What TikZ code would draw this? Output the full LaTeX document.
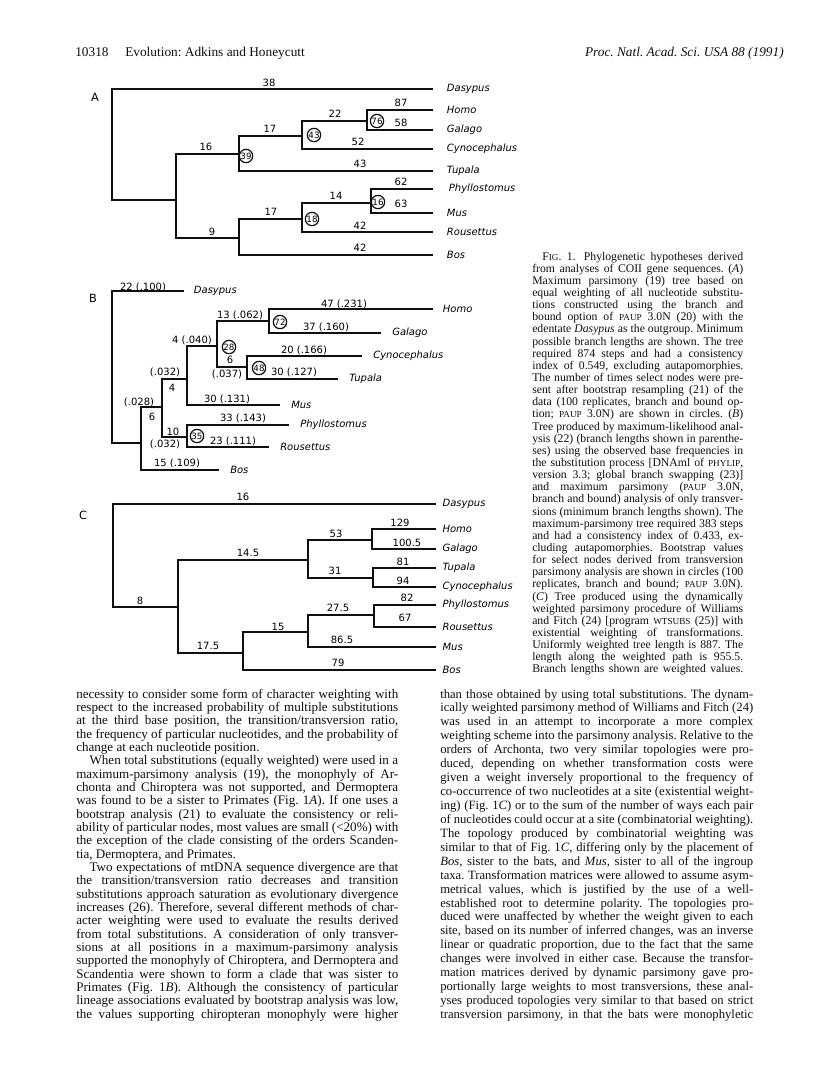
\documentclass[tikz,border=0pt]{standalone}
\usepackage{fontspec}
\setmainfont{Liberation Serif}
\newfontfamily\genevafont{DejaVu Sans}
\usepackage{tikz}
\usetikzlibrary{positioning}
\definecolor{ink}{RGB}{15,15,15}

\hbadness=10000
\hfuzz=2pt
\frenchspacing
\newcommand\jline[1]{\hbox to\hsize{#1}}
\newcommand\lline[1]{\hbox{#1}}
\newcommand\smcap[1]{{\fontsize{6.9}{7}\selectfont #1}}

\begin{document}
\begin{tikzpicture}[x=0.75pt,y=-0.75pt,
    branch/.style={ink,line width=1.9pt,line cap=rect},
    taxon/.style={font=\genevafont\itshape\fontsize{7.5}{9}\selectfont,inner sep=0pt,anchor=west},
    blen/.style={font=\genevafont\fontsize{7.5}{9}\selectfont,inner sep=0pt},
    boot/.style={circle,draw=ink,line width=0.9pt,fill=white,minimum size=10pt,inner sep=0pt,
      font=\genevafont\fontsize{6.5}{7}\selectfont},
    panel/.style={font=\genevafont\fontsize{8.5}{10}\selectfont,inner sep=0pt},
    textcol/.style={anchor=base west,inner sep=0pt,text=ink}]

    \fill[white] (0,0) rectangle (816,1079);
    \useasboundingbox (0,0) rectangle (816,1079);

    % Running head
    \node[textcol,font=\fontsize{10}{12}\selectfont] (pageno) at (75,56) {10318};
    \node[textcol,font=\fontsize{10}{12}\selectfont] (runhead) at (125,56) {Evolution: Adkins and Honeycutt};
    \node[textcol,anchor=base east,font=\fontsize{10}{12}\selectfont\itshape] (journal) at (784,56)
        {Proc. Natl. Acad. Sci. USA 88 (1991)};

    % ---------------- Tree A ----------------
    \node[panel] (panA) at (95,97) {A};
    \coordinate (rA) at (112,200);
    \coordinate (a1) at (176,200);
    \coordinate (a2) at (239,154);
    \coordinate (a3) at (302,136);
    \coordinate (a4) at (367,121);
    \coordinate (a5) at (239,238);
    \coordinate (a6) at (302,219);
    \coordinate (a7) at (371,203);
    \coordinate (dasA) at (432,89);
    \coordinate (homA) at (432,110);
    \coordinate (galA) at (432,130);
    \coordinate (cynA) at (432,149);
    \coordinate (tupA) at (432,171);
    \coordinate (phyA) at (432,189);
    \coordinate (musA) at (432,213);
    \coordinate (rouA) at (432,232);
    \coordinate (bosA) at (432,255);

    \foreach \p/\c in {rA/dasA,rA/a1,a1/a2,a1/a5,a2/a3,a2/tupA,a3/a4,a3/cynA,a4/homA,a4/galA,
                       a5/a6,a5/bosA,a6/a7,a6/rouA,a7/phyA,a7/musA}
        \draw[branch] (\p) |- (\c);

    \node[taxon,right=11pt of dasA] (tDasA) {Dasypus};
    \node[taxon,right=11pt of homA] (tHomA) {Homo};
    \node[taxon,right=11pt of galA] (tGalA) {Galago};
    \node[taxon,right=11pt of cynA] (tCynA) {Cynocephalus};
    \node[taxon,right=11pt of tupA] (tTupA) {Tupala};
    \node[taxon,right=12.5pt of phyA] (tPhyA) {Phyllostomus};
    \node[taxon,right=11pt of musA] (tMusA) {Mus};
    \node[taxon,right=11pt of rouA] (tRouA) {Rousettus};
    \node[taxon,right=11pt of bosA] (tBosA) {Bos};

    % branch lengths
    \node[blen] (lA1) at (269,83) {38};
    \node[blen] (lA2) at (206,147) {16};
    \node[blen] (lA3) at (212,232) {9};
    \node[blen] (lA4) at (270,129) {17};
    \node[blen] (lA5) at (360,164) {43};
    \node[blen] (lA6) at (335,114) {22};
    \node[blen] (lA7) at (358,142) {52};
    \node[blen] (lA8) at (401,103) {87};
    \node[blen] (lA9) at (401,123) {58};
    \node[blen] (lA10) at (271,212) {17};
    \node[blen] (lA11) at (360,248) {42};
    \node[blen] (lA12) at (336,196) {14};
    \node[blen] (lA13) at (360,226) {42};
    \node[blen] (lA14) at (401,182) {62};
    \node[blen] (lA15) at (401,204) {63};

    % bootstrap values
    \node[boot] (bA1) at (377,121) {76};
    \node[boot] (bA2) at (314,135) {43};
    \node[boot] (bA3) at (246,156) {39};
    \node[boot] (bA4) at (312,219) {18};
    \node[boot] (bA5) at (378,202) {16};

    % ---------------- Tree B ----------------
    \node[panel] (panB) at (93,298) {B};
    \coordinate (rB) at (112,443);
    \coordinate (b1) at (141,443);
    \coordinate (b2) at (162,407);
    \coordinate (b3) at (187,437);
    \coordinate (b4) at (187,379);
    \coordinate (b5) at (217,346);
    \coordinate (b6) at (247,367);
    \coordinate (b7) at (269,321);
    \coordinate (dasB) at (183,291);
    \coordinate (homB) at (432,309);
    \coordinate (galB) at (380,333);
    \coordinate (cynB) at (361,356);
    \coordinate (tupB) at (337,379);
    \coordinate (musB) at (279,405);
    \coordinate (phyB) at (288,425);
    \coordinate (rouB) at (268,447);
    \coordinate (bosB) at (218,470);

    \foreach \p/\c in {rB/dasB,rB/b1,b1/b2,b1/bosB,b2/b3,b2/b4,b3/phyB,b3/rouB,b4/b5,b4/musB,
                       b5/b6,b5/b7,b6/cynB,b6/tupB,b7/homB,b7/galB}
        \draw[branch] (\p) |- (\c);

    \node[taxon,right=8pt of dasB] (tDasB) {Dasypus};
    \node[taxon,right=8pt of homB] (tHomB) {Homo};
    \node[taxon,right=9pt of galB] (tGalB) {Galago};
    \node[taxon,right=9pt of cynB] (tCynB) {Cynocephalus};
    \node[taxon,right=9pt of tupB] (tTupB) {Tupala};
    \node[taxon,right=9pt of musB] (tMusB) {Mus};
    \node[taxon,right=9pt of phyB] (tPhyB) {Phyllostomus};
    \node[taxon,right=9pt of rouB] (tRouB) {Rousettus};
    \node[taxon,right=9pt of bosB] (tBosB) {Bos};

    % branch lengths (likelihood values in parentheses)
    \node[blen] (lB1) at (143,287) {22 (.100)};
    \node[blen] (lB2) at (177,463) {15 (.109)};
    \node[blen] (lB3) at (139,402) {(.028)};
    \node[blen] (lB4) at (152,417) {6};
    \node[blen] (lB5) at (173,432) {10};
    \node[blen] (lB6) at (165,444) {(.032)};
    \node[blen] (lB7) at (243,418) {33 (.143)};
    \node[blen] (lB8) at (233,441) {23 (.111)};
    \node[blen] (lB9) at (165,372) {(.032)};
    \node[blen] (lB10) at (172,388) {4};
    \node[blen] (lB11) at (227,399) {30 (.131)};
    \node[blen] (lB12) at (192,340) {4 (.040)};
    \node[blen] (lB13) at (230,360) {6};
    \node[blen] (lB14) at (227,374) {(.037)};
    \node[blen] (lB15) at (304,350) {20 (.166)};
    \node[blen] (lB16) at (294,372) {30 (.127)};
    \node[blen] (lB17) at (240,315) {13 (.062)};
    \node[blen] (lB18) at (344,304) {47 (.231)};
    \node[blen] (lB19) at (326,327) {37 (.160)};

    \node[boot] (bB1) at (280,322) {72};
    \node[boot] (bB2) at (229,347) {28};
    \node[boot] (bB3) at (259,368) {48};
    \node[boot] (bB4) at (197,436) {35};

    % ---------------- Tree C ----------------
    \node[panel] (panC) at (83,515) {C};
    \coordinate (rC) at (113,607);
    \coordinate (c1) at (178,607);
    \coordinate (c2) at (308,560);
    \coordinate (c3) at (372,540);
    \coordinate (c4) at (373,578);
    \coordinate (c5) at (243,653);
    \coordinate (c6) at (308,632);
    \coordinate (c7) at (374,615);
    \coordinate (dasC) at (435,504);
    \coordinate (homC) at (435,529);
    \coordinate (galC) at (435,549);
    \coordinate (tupC) at (435,568);
    \coordinate (cynC) at (435,587);
    \coordinate (phyC) at (435,605);
    \coordinate (rouC) at (435,627);
    \coordinate (musC) at (435,647);
    \coordinate (bosC) at (435,670);

    \foreach \p/\c in {rC/dasC,rC/c1,c1/c2,c1/c5,c2/c3,c2/c4,c3/homC,c3/galC,c4/tupC,c4/cynC,
                       c5/c6,c5/bosC,c6/c7,c6/musC,c7/phyC,c7/rouC}
        \draw[branch] (\p) |- (\c);

    \node[taxon,right=5.5pt of dasC] (tDasC) {Dasypus};
    \node[taxon,right=5.5pt of homC] (tHomC) {Homo};
    \node[taxon,right=5.5pt of galC] (tGalC) {Galago};
    \node[taxon,right=5.5pt of tupC] (tTupC) {Tupala};
    \node[taxon,right=5.5pt of cynC] (tCynC) {Cynocephalus};
    \node[taxon,right=5.5pt of phyC] (tPhyC) {Phyllostomus};
    \node[taxon,right=5.5pt of rouC] (tRouC) {Rousettus};
    \node[taxon,right=5.5pt of musC] (tMusC) {Mus};
    \node[taxon,right=5.5pt of bosC] (tBosC) {Bos};

    \node[blen] (lC1) at (243,497) {16};
    \node[blen] (lC2) at (140,601) {8};
    \node[blen] (lC3) at (248,553) {14.5};
    \node[blen] (lC4) at (208,646) {17.5};
    \node[blen] (lC5) at (336,534) {53};
    \node[blen] (lC6) at (400,523) {129};
    \node[blen] (lC7) at (407,543) {100.5};
    \node[blen] (lC8) at (335,571) {31};
    \node[blen] (lC9) at (403,562) {81};
    \node[blen] (lC10) at (403,581) {94};
    \node[blen] (lC11) at (338,663) {79};
    \node[blen] (lC12) at (278,627) {15};
    \node[blen] (lC13) at (342,640) {86.5};
    \node[blen] (lC14) at (338,608) {27.5};
    \node[blen] (lC15) at (407,598) {82};
    \node[blen] (lC16) at (405,618) {67};

    % ---------------- Legend ----------------
    \node[textcol,font=\fontsize{8.8}{9.11}\selectfont] (legend) at (532,260) {\vtop{\hsize=158.25pt
    \jline{\hspace*{7.5pt}F\smcap{IG}. 1.\hspace{0.7em}Phylogenetic hypotheses derived}
    \jline{from analyses of COII gene sequences. (\textit{A})}
    \jline{Maximum parsimony (19) tree based on}
    \jline{equal weighting of all nucleotide substitu-}
    \jline{tions constructed using the branch and}
    \jline{bound option of \smcap{PAUP} 3.0N (20) with the}
    \jline{edentate \textit{Dasypus} as the outgroup. Minimum}
    \jline{possible branch lengths are shown. The tree}
    \jline{required 874 steps and had a consistency}
    \jline{index of 0.549, excluding autapomorphies.}
    \jline{The number of times select nodes were pre-}
    \jline{sent after bootstrap resampling (21) of the}
    \jline{data (100 replicates, branch and bound op-}
    \jline{tion; \smcap{PAUP} 3.0N) are shown in circles. (\textit{B})}
    \jline{Tree produced by maximum-likelihood anal-}
    \jline{ysis (22) (branch lengths shown in parenthe-}
    \jline{ses) using the observed base frequencies in}
    \jline{the substitution process [DNAml of \smcap{PHYLIP},}
    \jline{version 3.3; global branch swapping (23)]}
    \jline{and maximum parsimony (\smcap{PAUP} 3.0N,}
    \jline{branch and bound) analysis of only transver-}
    \jline{sions (minimum branch lengths shown). The}
    \jline{maximum-parsimony tree required 383 steps}
    \jline{and had a consistency index of 0.433, ex-}
    \jline{cluding autapomorphies. Bootstrap values}
    \jline{for select nodes derived from transversion}
    \jline{parsimony analysis are shown in circles (100}
    \jline{replicates, branch and bound; \smcap{PAUP} 3.0N).}
    \jline{(\textit{C}) Tree produced using the dynamically}
    \jline{weighted parsimony procedure of Williams}
    \jline{and Fitch (24) [program \smcap{WTSUBS} (25)] with}
    \jline{existential weighting of transformations.}
    \jline{Uniformly weighted tree length is 887. The}
    \jline{length along the weighted path is 955.5.}
    \jline{Branch lengths shown are weighted values.}}};

    % ---------------- Body text ----------------
    \node[textcol,font=\fontsize{9.8}{10}\selectfont] (colL) at (76,698) {\vtop{\hsize=241.5pt
    \jline{necessity to consider some form of character weighting with}
    \jline{respect to the increased probability of multiple substitutions}
    \jline{at the third base position, the transition/transversion ratio,}
    \jline{the frequency of particular nucleotides, and the probability of}
    \lline{change at each nucleotide position.}
    \jline{\hspace*{10pt}When total substitutions (equally weighted) were used in a}
    \jline{maximum-parsimony analysis (19), the monophyly of Ar-}
    \jline{chonta and Chiroptera was not supported, and Dermoptera}
    \jline{was found to be a sister to Primates (Fig. 1\textit{A}). If one uses a}
    \jline{bootstrap analysis (21) to evaluate the consistency or reli-}
    \jline{ability of particular nodes, most values are small (<20\%) with}
    \jline{the exception of the clade consisting of the orders Scanden-}
    \lline{tia, Dermoptera, and Primates.}
    \jline{\hspace*{10pt}Two expectations of mtDNA sequence divergence are that}
    \jline{the transition/transversion ratio decreases and transition}
    \jline{substitutions approach saturation as evolutionary divergence}
    \jline{increases (26). Therefore, several different methods of char-}
    \jline{acter weighting were used to evaluate the results derived}
    \jline{from total substitutions. A consideration of only transver-}
    \jline{sions at all positions in a maximum-parsimony analysis}
    \jline{supported the monophyly of Chiroptera, and Dermoptera and}
    \jline{Scandentia were shown to form a clade that was sister to}
    \jline{Primates (Fig. 1\textit{B}). Although the consistency of particular}
    \jline{lineage associations evaluated by bootstrap analysis was low,}
    \jline{the values supporting chiropteran monophyly were higher}}};

    \node[textcol,font=\fontsize{9.5}{10.45}\selectfont] (colR) at (440,698) {\vtop{\hsize=234.75pt
    \jline{than those obtained by using total substitutions. The dynam-}
    \jline{ically weighted parsimony method of Williams and Fitch (24)}
    \jline{was used in an attempt to incorporate a more complex}
    \jline{weighting scheme into the parsimony analysis. Relative to the}
    \jline{orders of Archonta, two very similar topologies were pro-}
    \jline{duced, depending on whether transformation costs were}
    \jline{given a weight inversely proportional to the frequency of}
    \jline{co-occurrence of two nucleotides at a site (existential weight-}
    \jline{ing) (Fig. 1\textit{C}) or to the sum of the number of ways each pair}
    \jline{of nucleotides could occur at a site (combinatorial weighting).}
    \jline{The topology produced by combinatorial weighting was}
    \jline{similar to that of Fig. 1\textit{C}, differing only by the placement of}
    \jline{\textit{Bos}, sister to the bats, and \textit{Mus}, sister to all of the ingroup}
    \jline{taxa. Transformation matrices were allowed to assume asym-}
    \jline{metrical values, which is justified by the use of a well-}
    \jline{established root to determine polarity. The topologies pro-}
    \jline{duced were unaffected by whether the weight given to each}
    \jline{site, based on its number of inferred changes, was an inverse}
    \jline{linear or quadratic proportion, due to the fact that the same}
    \jline{changes were involved in either case. Because the transfor-}
    \jline{mation matrices derived by dynamic parsimony gave pro-}
    \jline{portionally large weights to most transversions, these anal-}
    \jline{yses produced topologies very similar to that based on strict}
    \jline{transversion parsimony, in that the bats were monophyletic}}};

\end{tikzpicture}
\end{document}
